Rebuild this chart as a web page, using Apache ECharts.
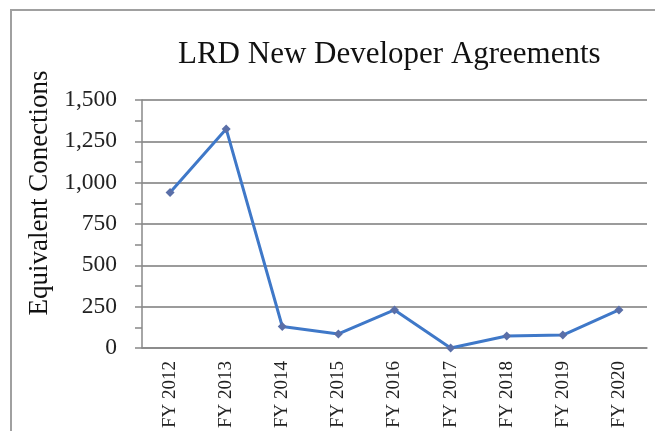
<!DOCTYPE html>
<html>
<head>
<meta charset="utf-8">
<script src="https://cdn.jsdelivr.net/npm/echarts@6/dist/echarts.min.js"></script>
<style>
html,body{margin:0;padding:0;background:#fff;}
#main{width:655px;height:431px;}
</style>
</head>
<body>
<div id="main"></div>
<script>
// chart data
var categories = ['FY 2012','FY 2013','FY 2014','FY 2015','FY 2016','FY 2017','FY 2018','FY 2019','FY 2020'];
var connections = [940, 1325, 130, 85, 230, 0, 72, 78, 230];
var yTicks = [0, 250, 500, 750, 1000, 1250, 1500];

var myChart = echarts.init(document.getElementById('main'));
var serif = 'Liberation Serif';

var options = {
	backgroundColor:'#fff',
	title:{
		text:'LRD New Developer Agreements',
		left:173,
		top:34,
		textStyle:{fontFamily:serif,fontSize:31,fontWeight:'normal',color:'#111'}
	},
	graphic:[{
		type:'rect',
		shape:{x:11,y:10,width:660,height:440},
		style:{fill:'none',stroke:'#a0a0a0',lineWidth:2}
	}],
	grid:{left:142,right:8,top:100,bottom:81},
	xAxis:{
		type:'category',
		data:categories,
		boundaryGap:true,
		axisLine:{lineStyle:{color:'#888',width:1.5}},
		axisTick:{length:7,lineStyle:{color:'#888',width:1.5}},
		axisLabel:{rotate:90,fontFamily:serif,fontSize:19,color:'#222',margin:13}
	},
	yAxis:{
		type:'value',
		min:yTicks[0],
		max:yTicks[yTicks.length-1],
		interval:250,
		name:'Equivalent Conections',
		nameLocation:'middle',
		nameGap:86,
		nameTextStyle:{fontFamily:serif,fontSize:27,color:'#111',padding:[0,0,0,62]},
		axisLine:{show:true,lineStyle:{color:'#888',width:1.5}},
		axisTick:{show:true,length:7,lineStyle:{color:'#888',width:1.5}},
		minorTick:{show:true,splitNumber:2,length:7,lineStyle:{color:'#888',width:1.5}},
		splitLine:{lineStyle:{color:'#7a7a7a',width:1.5}},
		axisLabel:{
			fontFamily:serif,fontSize:23.5,color:'#222',margin:25,
			formatter:function(v){ return v.toLocaleString('en-US'); }
		}
	},
	series:[{
		type:'line',
		data:connections,
		symbol:'diamond',
		symbolSize:9,
		lineStyle:{color:'#3f78c8',width:3},
		itemStyle:{color:'#5a6fa8'},
		z:5
	}]
};
myChart.setOption(options);
</script>
</body>
</html>
